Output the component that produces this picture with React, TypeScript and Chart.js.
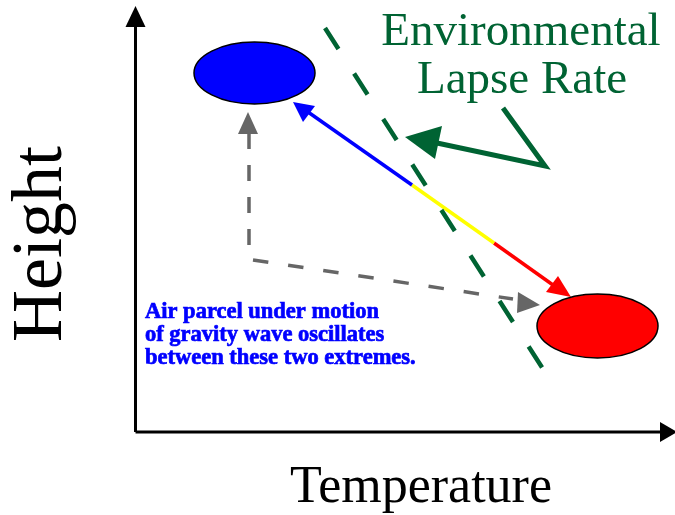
import React, { useEffect, useRef } from 'react';
import { Chart, registerables } from 'chart.js';

Chart.register(...registerables);

// Diagram coordinates: x = temperature units (0..675), y = height units (0 at top).
const X_RANGE = [0, 675];
const Y_RANGE = [0, 515];

// Axes
const yAxisPts = [{ x: 135.5, y: 432 }, { x: 135.5, y: 24 }];
const xAxisPts = [{ x: 135.5, y: 432 }, { x: 662, y: 432 }];
const yAxisHead = [{ x: 135.5, y: 6 }, { x: 125.5, y: 27 }, { x: 145.5, y: 27 }];
const xAxisHead = [{ x: 677, y: 432 }, { x: 660, y: 422 }, { x: 660, y: 442 }];

// Environmental lapse rate (dashed) and its label pointer
const elrPts = [{ x: 325, y: 28 }, { x: 543, y: 369 }];
const elrPointerPts = [{ x: 503, y: 108 }, { x: 545, y: 166 }, { x: 437, y: 143 }];
const elrPointerHead = [{ x: 405, y: 137 }, { x: 442, y: 126 }, { x: 435, y: 159 }];

// Gray dashed path of the parcel
const grayVertPts = [{ x: 249, y: 245 }, { x: 249, y: 133 }];
const grayHorizPts = [{ x: 253, y: 260 }, { x: 513, y: 299 }];
const grayUpHead = [{ x: 248, y: 112 }, { x: 238, y: 134 }, { x: 258, y: 134 }];
const grayRightHead = [{ x: 540, y: 305 }, { x: 518, y: 292 }, { x: 517, y: 313 }];

// Parcel oscillation arrow (blue -> yellow -> red)
const parcelBluePts = [{ x: 308, y: 112 }, { x: 412, y: 185 }];
const parcelYellowPts = [{ x: 412, y: 185 }, { x: 494, y: 243 }];
const parcelRedPts = [{ x: 494, y: 243 }, { x: 553, y: 285 }];
const blueHead = [{ x: 293, y: 102 }, { x: 315, y: 106 }, { x: 303, y: 122 }];
const redHead = [{ x: 571, y: 297 }, { x: 558, y: 276 }, { x: 546, y: 292 }];

// Parcel extremes (center x, center y, radius x, radius y)
const coldParcel = [254.5, 73, 60.5, 31];
const warmParcel = [597.5, 326, 60.5, 32];

// Labels
const elrLabel = ['Environmental', 'Lapse Rate'];
const elrLabelPos = [[521, 45], [522, 93]];
const noteLines = ['Air parcel under motion', 'of gravity wave oscillates', 'between these two extremes.'];
const noteStart = [145, 318];
const noteLineStep = 23;
const xTitle = 'Temperature';
const xTitlePos = [421, 502];
const yTitle = 'Height';
const yTitlePos = [61, 244];

const GREEN = '#006333';
const GRAY = '#666666';

function line(data: { x: number; y: number }[], color: string, width: number, dash: number[] = []) {
  return {
    data,
    showLine: true,
    borderColor: color,
    backgroundColor: color,
    borderWidth: width,
    borderDash: dash,
    pointRadius: 0,
    pointHoverRadius: 0,
    fill: false,
    tension: 0,
    clip: false as any,
  };
}

const decorPlugin = {
  id: 'decor',
  afterDatasetsDraw(chart: any) {
    const ctx: CanvasRenderingContext2D = chart.ctx;
    const xs = chart.scales.x;
    const ys = chart.scales.y;
    const px = (v: number) => xs.getPixelForValue(v);
    const py = (v: number) => ys.getPixelForValue(v);

    const tri = (pts: { x: number; y: number }[], color: string) => {
      ctx.beginPath();
      pts.forEach((p, i) => (i === 0 ? ctx.moveTo(px(p.x), py(p.y)) : ctx.lineTo(px(p.x), py(p.y))));
      ctx.closePath();
      ctx.fillStyle = color;
      ctx.fill();
    };

    const ell = (e: number[], color: string) => {
      const [cx, cy, rx, ry] = e;
      const pcx = px(cx);
      const pcy = py(cy);
      const prx = Math.abs(px(cx + rx) - pcx);
      const pry = Math.abs(py(cy + ry) - pcy);
      ctx.beginPath();
      ctx.ellipse(pcx, pcy, prx, pry, 0, 0, Math.PI * 2);
      ctx.fillStyle = color;
      ctx.fill();
      ctx.lineWidth = 1.5;
      ctx.strokeStyle = '#000000';
      ctx.stroke();
    };

    ctx.save();
    tri(yAxisHead, '#000000');
    tri(xAxisHead, '#000000');
    tri(elrPointerHead, GREEN);
    tri(grayUpHead, GRAY);
    tri(grayRightHead, GRAY);
    tri(blueHead, '#0000ff');
    tri(redHead, '#ff0000');
    ell(coldParcel, '#0000ff');
    ell(warmParcel, '#ff0000');

    // ELR label
    ctx.fillStyle = GREEN;
    ctx.font = '47px "Liberation Serif", "Times New Roman", serif';
    ctx.textAlign = 'center';
    ctx.textBaseline = 'alphabetic';
    elrLabel.forEach((t, i) => ctx.fillText(t, px(elrLabelPos[i][0]), py(elrLabelPos[i][1])));

    // note
    ctx.fillStyle = '#0000ff';
    ctx.strokeStyle = '#0000ff';
    ctx.lineWidth = 0.7;
    ctx.font = 'bold 22.5px "Liberation Serif", "Times New Roman", serif';
    ctx.textAlign = 'left';
    noteLines.forEach((t, i) => {
      ctx.fillText(t, px(noteStart[0]), py(noteStart[1] + i * noteLineStep));
      ctx.strokeText(t, px(noteStart[0]), py(noteStart[1] + i * noteLineStep));
    });

    // axis titles
    ctx.fillStyle = '#000000';
    ctx.font = '52px "Liberation Serif", "Times New Roman", serif';
    ctx.textAlign = 'center';
    ctx.fillText(xTitle, px(xTitlePos[0]), py(xTitlePos[1]));

    ctx.save();
    ctx.translate(px(yTitlePos[0]), py(yTitlePos[1]));
    ctx.rotate(-Math.PI / 2);
    ctx.font = '72px "Liberation Serif", "Times New Roman", serif';
    ctx.fillText(yTitle, 0, 0);
    ctx.restore();

    ctx.restore();
  },
};

export default function App() {
  const ref = useRef<HTMLCanvasElement | null>(null);

  useEffect(() => {
    if (!ref.current) return;
    const chart = new Chart(ref.current, {
      type: 'scatter',
      data: {
        datasets: [
          line(yAxisPts, '#000000', 3),
          line(xAxisPts, '#000000', 3),
          line(elrPts, GREEN, 4.5, [25, 29]),
          line(elrPointerPts, GREEN, 5),
          line(grayVertPts, GRAY, 3.5, [16, 16]),
          line(grayHorizPts, GRAY, 3.5, [15.5, 20]),
          line(parcelBluePts, '#0000ff', 3.5),
          line(parcelYellowPts, '#ffff00', 3.5),
          line(parcelRedPts, '#ff0000', 3.5),
        ] as any,
      },
      options: {
        animation: false,
        responsive: false,
        maintainAspectRatio: false,
        layout: { padding: 0 },
        plugins: { legend: { display: false }, tooltip: { enabled: false } },
        events: [],
        scales: {
          x: { type: 'linear', min: X_RANGE[0], max: X_RANGE[1], display: false },
          y: { type: 'linear', min: Y_RANGE[0], max: Y_RANGE[1], reverse: true, display: false },
        },
      },
      plugins: [decorPlugin],
    });
    return () => chart.destroy();
  }, []);

  return (
    <div style={{ position: 'absolute', left: 0, top: 0, width: 675, height: 515, background: '#ffffff' }}>
      <canvas ref={ref} width={675} height={515} />
    </div>
  );
}
